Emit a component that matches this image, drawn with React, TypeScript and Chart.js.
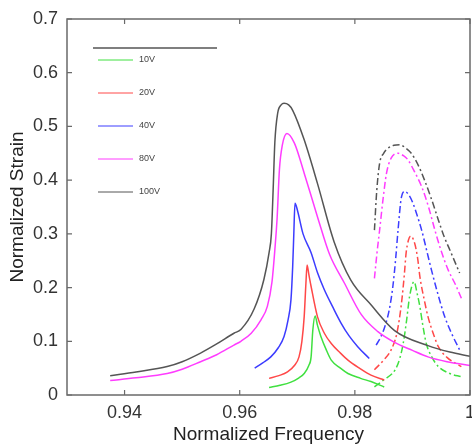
import React, { useEffect, useRef } from "react";
import { Chart, registerables } from "chart.js";

Chart.register(...registerables);

// ---------- data ----------
const voltageLabels = ["10V", "20V", "40V", "80V", "100V"];
const seriesColors = ["#40e040", "#ff4848", "#3c3cff", "#ff3cff", "#555555"];

const xTickValues = [0.94, 0.96, 0.98, 1.0];
const xTickLabels = ["0.94", "0.96", "0.98", "1"];
const yTickValues = [0, 0.1, 0.2, 0.3, 0.4, 0.5, 0.6, 0.7];
const yTickLabels = ["0", "0.1", "0.2", "0.3", "0.4", "0.5", "0.6", "0.7"];

// solid curves (first peak)
const solid10Freq = [0.9651, 0.967, 0.9689, 0.9703, 0.9712, 0.972, 0.9724, 0.9727, 0.9731, 0.9735, 0.9741, 0.975, 0.9759, 0.9775, 0.9788, 0.981, 0.9828, 0.9851];
const solid10Strain = [0.014, 0.018, 0.024, 0.032, 0.04, 0.055, 0.071, 0.121, 0.147, 0.13, 0.109, 0.085, 0.065, 0.05, 0.04, 0.031, 0.025, 0.015];

const solid20Freq = [0.9651, 0.9668, 0.9683, 0.9695, 0.9703, 0.9708, 0.9712, 0.9715, 0.9717, 0.972, 0.9724, 0.9735, 0.9747, 0.9759, 0.9775, 0.9788, 0.9808, 0.9828, 0.9851];
const solid20Strain = [0.031, 0.036, 0.043, 0.055, 0.071, 0.1, 0.146, 0.208, 0.242, 0.225, 0.202, 0.146, 0.115, 0.096, 0.078, 0.065, 0.05, 0.037, 0.028];

const solid40Freq = [0.9626, 0.964, 0.9654, 0.9667, 0.9677, 0.9684, 0.9689, 0.9692, 0.9694, 0.9696, 0.97, 0.971, 0.9724, 0.9735, 0.9747, 0.9762, 0.9776, 0.979, 0.9805, 0.9825];
const solid40Strain = [0.05, 0.06, 0.071, 0.088, 0.109, 0.14, 0.177, 0.239, 0.301, 0.357, 0.345, 0.3, 0.265, 0.228, 0.196, 0.163, 0.134, 0.11, 0.09, 0.068];

const solid80Freq = [0.9375, 0.942, 0.9474, 0.95, 0.9532, 0.956, 0.959, 0.9602, 0.962, 0.9637, 0.9648, 0.9656, 0.9661, 0.9665, 0.9669, 0.9674, 0.9682, 0.9695, 0.9712, 0.9735, 0.9756, 0.9782, 0.9811, 0.984, 0.9869, 0.99, 0.9927, 0.996, 1.0];
const solid80Strain = [0.027, 0.032, 0.04, 0.048, 0.062, 0.075, 0.093, 0.1, 0.115, 0.14, 0.165, 0.21, 0.27, 0.33, 0.42, 0.465, 0.487, 0.469, 0.413, 0.332, 0.262, 0.208, 0.15, 0.118, 0.098, 0.083, 0.071, 0.062, 0.055];

const solid100Freq = [0.9375, 0.942, 0.9474, 0.95, 0.9532, 0.956, 0.959, 0.9602, 0.9625, 0.9642, 0.9651, 0.9655, 0.9658, 0.9661, 0.9666, 0.9672, 0.9677, 0.9685, 0.9692, 0.9712, 0.9735, 0.9764, 0.9793, 0.9828, 0.9869, 0.9927, 0.9965, 1.0];
const solid100Strain = [0.036, 0.043, 0.053, 0.062, 0.078, 0.095, 0.115, 0.122, 0.16, 0.215, 0.265, 0.3, 0.38, 0.47, 0.525, 0.54, 0.543, 0.54, 0.53, 0.475, 0.394, 0.285, 0.214, 0.168, 0.12, 0.092, 0.08, 0.072];

// dash-dot curves (second peak)
const dash10Freq = [0.9834, 0.985, 0.987, 0.9878, 0.9884, 0.989, 0.9895, 0.9903, 0.9908, 0.9913, 0.9918, 0.9924, 0.9933, 0.9945, 0.9965, 0.9985];
const dash10Strain = [0.015, 0.028, 0.047, 0.068, 0.096, 0.14, 0.183, 0.211, 0.19, 0.164, 0.13, 0.096, 0.072, 0.053, 0.04, 0.034];

const dash20Freq = [0.9834, 0.985, 0.9863, 0.9873, 0.9881, 0.9886, 0.9889, 0.9893, 0.9897, 0.9904, 0.9909, 0.9913, 0.992, 0.9927, 0.9936, 0.9945, 0.996, 0.9985];
const dash20Strain = [0.047, 0.065, 0.084, 0.115, 0.171, 0.225, 0.264, 0.288, 0.296, 0.282, 0.255, 0.22, 0.18, 0.146, 0.115, 0.09, 0.07, 0.053];

const dash40Freq = [0.9837, 0.9845, 0.9852, 0.986, 0.9866, 0.9871, 0.9875, 0.9881, 0.9887, 0.9894, 0.9901, 0.9908, 0.9916, 0.9925, 0.9933, 0.9945, 0.9956, 0.997, 0.9982];
const dash40Strain = [0.093, 0.108, 0.127, 0.16, 0.202, 0.255, 0.307, 0.369, 0.379, 0.372, 0.357, 0.335, 0.307, 0.268, 0.233, 0.185, 0.146, 0.11, 0.084];

const dash80Freq = [0.9834, 0.9838, 0.9843, 0.9849, 0.9855, 0.9863, 0.9875, 0.9885, 0.9892, 0.9904, 0.9916, 0.9928, 0.9939, 0.995, 0.9962, 0.9975, 0.9985];
const dash80Strain = [0.217, 0.26, 0.307, 0.365, 0.413, 0.441, 0.45, 0.445, 0.438, 0.415, 0.388, 0.35, 0.307, 0.268, 0.233, 0.205, 0.18];

const dash100Freq = [0.9834, 0.9838, 0.9843, 0.985, 0.9857, 0.9868, 0.9878, 0.9888, 0.9898, 0.991, 0.9921, 0.9933, 0.9945, 0.9955, 0.9965, 0.9982];
const dash100Strain = [0.307, 0.38, 0.431, 0.45, 0.459, 0.465, 0.466, 0.46, 0.45, 0.428, 0.4, 0.365, 0.326, 0.295, 0.27, 0.227];

const solidFreqs = [solid10Freq, solid20Freq, solid40Freq, solid80Freq, solid100Freq];
const solidStrains = [solid10Strain, solid20Strain, solid40Strain, solid80Strain, solid100Strain];
const dashFreqs = [dash10Freq, dash20Freq, dash40Freq, dash80Freq, dash100Freq];
const dashStrains = [dash10Strain, dash20Strain, dash40Strain, dash80Strain, dash100Strain];

const FONT = "'Liberation Sans', Arial, Helvetica, sans-serif";

const zip = (xs: number[], ys: number[]) => xs.map((x, i) => ({ x, y: ys[i] }));

const framePlugin = {
  id: "frameTicks",
  afterDraw(chart: any) {
    const { ctx, chartArea } = chart;
    const { left, right, top, bottom } = chartArea;
    const xs = chart.scales.x;
    const ys = chart.scales.y;
    ctx.save();
    ctx.strokeStyle = "#6a6a6a";
    ctx.lineWidth = 1.5;
    ctx.strokeRect(left, top, right - left, bottom - top);
    ctx.lineWidth = 1.2;
    const tl = 5;
    ctx.beginPath();
    xTickValues.forEach((v) => {
      const px = xs.getPixelForValue(v);
      ctx.moveTo(px, bottom);
      ctx.lineTo(px, bottom - tl);
      ctx.moveTo(px, top);
      ctx.lineTo(px, top + tl);
    });
    yTickValues.forEach((v) => {
      const py = ys.getPixelForValue(v);
      ctx.moveTo(left, py);
      ctx.lineTo(left + tl, py);
      ctx.moveTo(right, py);
      ctx.lineTo(right - tl, py);
    });
    ctx.stroke();

    // legend
    const lx = left + 26;
    ctx.strokeStyle = "#555555";
    ctx.lineWidth = 1.3;
    ctx.beginPath();
    ctx.moveTo(lx, top + 29);
    ctx.lineTo(lx + 124, top + 29);
    ctx.stroke();
    ctx.font = `9px ${FONT}`;
    ctx.textBaseline = "middle";
    ctx.textAlign = "left";
    voltageLabels.forEach((lab, i) => {
      const y = top + 41 + i * 33;
      ctx.strokeStyle = seriesColors[i];
      ctx.lineWidth = 1;
      ctx.beginPath();
      ctx.moveTo(lx + 5, y);
      ctx.lineTo(lx + 40, y);
      ctx.stroke();
      ctx.fillStyle = "#444";
      ctx.fillText(lab, lx + 46, y);
    });
    ctx.restore();
  },
};

export default function App() {
  const ref = useRef<HTMLCanvasElement | null>(null);
  useEffect(() => {
    document.body.style.margin = "0";
    const canvas = ref.current;
    if (!canvas) return;
    const datasets: any[] = [];
    voltageLabels.forEach((lab, i) => {
      datasets.push({
        label: lab,
        data: zip(solidFreqs[i], solidStrains[i]),
        borderColor: seriesColors[i],
        borderWidth: 1.5,
        pointRadius: 0,
        fill: false,
        cubicInterpolationMode: "monotone",
      });
    });
    voltageLabels.forEach((lab, i) => {
      datasets.push({
        label: lab + " (2)",
        data: zip(dashFreqs[i], dashStrains[i]),
        borderColor: seriesColors[i],
        borderWidth: 1.5,
        borderDash: [7, 3, 2, 3],
        pointRadius: 0,
        fill: false,
        cubicInterpolationMode: "monotone",
      });
    });
    const chart = new Chart(canvas, {
      type: "line",
      data: { datasets },
      plugins: [framePlugin],
      options: {
        responsive: false,
        animation: false,
        layout: { padding: { top: 19, right: 2, bottom: 0, left: 0 } },
        plugins: { legend: { display: false }, tooltip: { enabled: false } },
        scales: {
          x: {
            type: "linear",
            min: 0.93,
            max: 1.0,
            afterBuildTicks: (s: any) => {
              s.ticks = xTickValues.map((v) => ({ value: v }));
            },
            afterFit: (s: any) => {
              s.height = 53;
              s.paddingLeft = 0;
              s.paddingRight = 0;
            },
            grid: { display: false, drawTicks: false },
            border: { display: false },
            ticks: {
              autoSkip: false,
              maxRotation: 0,
              padding: 7,
              color: "#333",
              font: { size: 18, family: FONT },
              callback: (_v: any, i: number) => xTickLabels[i],
            },
            title: {
              display: true,
              text: "Normalized Frequency",
              color: "#222",
              font: { size: 19, family: FONT },
              padding: { top: 0, bottom: 2 },
            },
          },
          y: {
            type: "linear",
            min: 0,
            max: 0.7,
            afterBuildTicks: (s: any) => {
              s.ticks = yTickValues.map((v) => ({ value: v }));
            },
            afterFit: (s: any) => {
              s.width = 67;
              s.paddingTop = 0;
              s.paddingBottom = 0;
            },
            grid: { display: false, drawTicks: false },
            border: { display: false },
            ticks: {
              autoSkip: false,
              padding: 9,
              color: "#333",
              font: { size: 18, family: FONT },
              callback: (_v: any, i: number) => yTickLabels[i],
            },
            title: {
              display: true,
              text: "Normalized Strain",
              color: "#222",
              font: { size: 19, family: FONT },
              padding: { top: 6, bottom: 0 },
            },
          },
        },
      } as any,
    });
    return () => chart.destroy();
  }, []);
  return (
    <div style={{ width: 472, height: 448, background: "#fff" }}>
      <canvas ref={ref} width={472} height={448} style={{ display: "block" }} />
    </div>
  );
}
